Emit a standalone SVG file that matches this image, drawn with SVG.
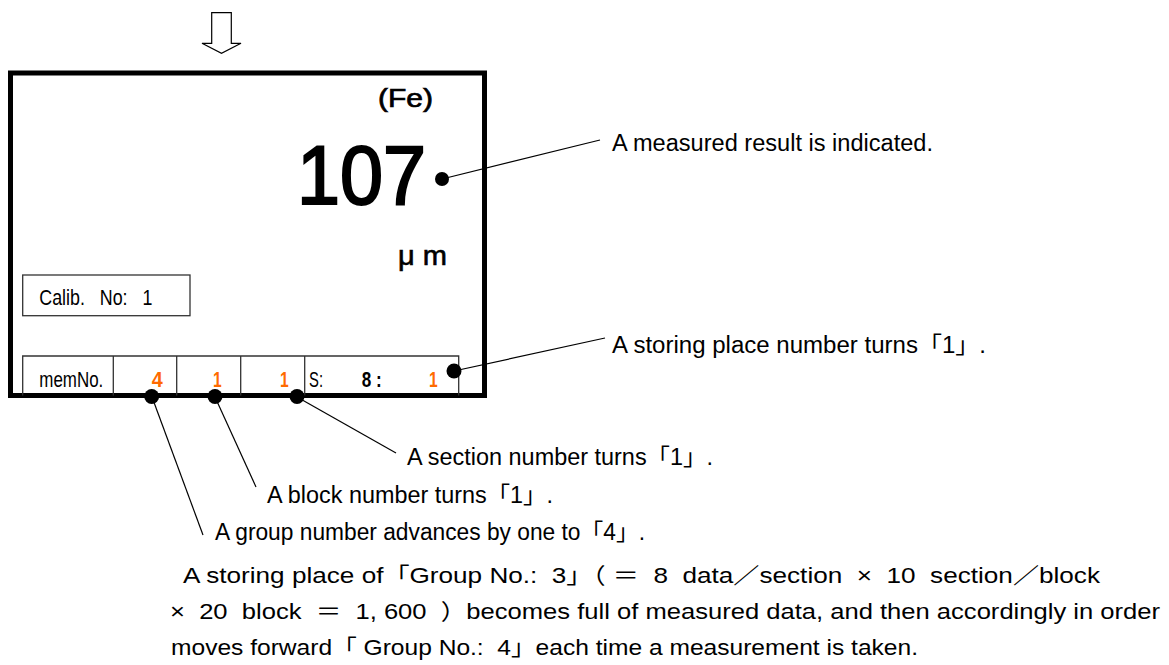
<svg xmlns="http://www.w3.org/2000/svg" width="1169" height="665" viewBox="0 0 1169 665">
<style>
.t{font-family:"Liberation Sans","Noto Sans CJK JP",sans-serif;fill:#000}
.lbl{font-size:23px}
.par{font-size:22px}
.cell{fill:none;stroke:#333;stroke-width:1.3}
.ld{stroke:#000;stroke-width:1.2;fill:none}
.dot{fill:#000}
.or{fill:#ff6a00;font-weight:bold}
</style>
<rect width="1169" height="665" fill="#fff"/>
<g id="arrow">
<path d="M211.7,12.7 H231.3 V43.3 H241 L221.5,53.3 L202,43.3 H211.7 Z" fill="#fff" stroke="#000" stroke-width="1.2"/>
</g>
<g id="display">
<rect x="10.5" y="73" width="474" height="322.5" fill="#fff" stroke="#000" stroke-width="5"/>
<text class="t" x="433" y="107" font-size="25" stroke="#000" stroke-width="0.7" text-anchor="end" textLength="55" lengthAdjust="spacingAndGlyphs">(Fe)</text>
<text class="t" x="297" y="204" font-size="83" stroke="#000" stroke-width="2.2" textLength="129" lengthAdjust="spacingAndGlyphs">107</text>
<text class="t" x="398" y="265" font-size="27" stroke="#000" stroke-width="0.6" textLength="49" lengthAdjust="spacingAndGlyphs" xml:space="preserve">μ m</text>
<g id="calib">
<rect x="22.7" y="275" width="167.3" height="40.7" class="cell"/>
<text class="t" x="39.3" y="305" font-size="22" textLength="113" lengthAdjust="spacingAndGlyphs" xml:space="preserve">Calib.   No:   1</text>
</g>
<g id="memstrip">
<path class="cell" d="M22.7,395.5 V356 H458.7 V395.5 M113.3,356 V395.5 M176.7,356 V395.5 M240.7,356 V395.5 M304.7,356 V395.5"/>
<text class="t" x="39.3" y="386.7" font-size="22" textLength="64" lengthAdjust="spacingAndGlyphs">memNo.</text>
<text class="t or" x="151.7" y="386.7" font-size="22" textLength="11" lengthAdjust="spacingAndGlyphs">4</text>
<text class="t or" x="213" y="386.7" font-size="22" textLength="8.7" lengthAdjust="spacingAndGlyphs">1</text>
<text class="t or" x="280" y="386.7" font-size="22" textLength="8.7" lengthAdjust="spacingAndGlyphs">1</text>
<text class="t" x="309" y="386.7" font-size="22" textLength="14" lengthAdjust="spacingAndGlyphs">S:</text>
<text class="t" x="361.7" y="386.7" font-size="22" font-weight="bold" textLength="20" lengthAdjust="spacingAndGlyphs" xml:space="preserve">8 :</text>
<text class="t or" x="429" y="386.7" font-size="22" textLength="8.7" lengthAdjust="spacingAndGlyphs">1</text>
</g>
</g>
<g id="connectors">
<line class="ld" x1="442" y1="179" x2="600" y2="140"/>
<line class="ld" x1="454" y1="371" x2="605" y2="338"/>
<line class="ld" x1="297" y1="397" x2="396" y2="453"/>
<line class="ld" x1="215" y1="397" x2="256" y2="487"/>
<line class="ld" x1="152" y1="397" x2="203" y2="535"/>
<circle class="dot" cx="442" cy="179" r="7"/>
<circle class="dot" cx="454" cy="371" r="7.5"/>
<circle class="dot" cx="297" cy="396.5" r="7.5"/>
<circle class="dot" cx="215" cy="396.5" r="7.5"/>
<circle class="dot" cx="151.7" cy="396.5" r="7.5"/>
</g>
<g id="labels">
<text class="t lbl" x="612" y="151" textLength="321" lengthAdjust="spacingAndGlyphs">A measured result is indicated.</text>
<text class="t lbl" x="612" y="353" textLength="374" lengthAdjust="spacingAndGlyphs">A storing place number turns「1」.</text>
<text class="t lbl" x="407" y="465" textLength="306" lengthAdjust="spacingAndGlyphs">A section number turns「1」.</text>
<text class="t lbl" x="267" y="503" textLength="286" lengthAdjust="spacingAndGlyphs">A block number turns「1」.</text>
<text class="t lbl" x="215" y="540" textLength="430" lengthAdjust="spacingAndGlyphs">A group number advances by one to「4」.</text>
</g>
<g id="paragraph">
<text class="t par" x="183" y="583" textLength="917" lengthAdjust="spacingAndGlyphs" xml:space="preserve">A storing place of「Group No.:  3」（ ＝  8  data／section  ×  10  section／block</text>
<text class="t par" x="170" y="619" textLength="990" lengthAdjust="spacingAndGlyphs" xml:space="preserve">×  20  block  ＝  1, 600  ）becomes full of measured data, and then accordingly in order</text>
<text class="t par" x="171" y="655" textLength="747" lengthAdjust="spacingAndGlyphs" xml:space="preserve">moves forward「 Group No.:  4」each time a measurement is taken.</text>
</g>
</svg>
